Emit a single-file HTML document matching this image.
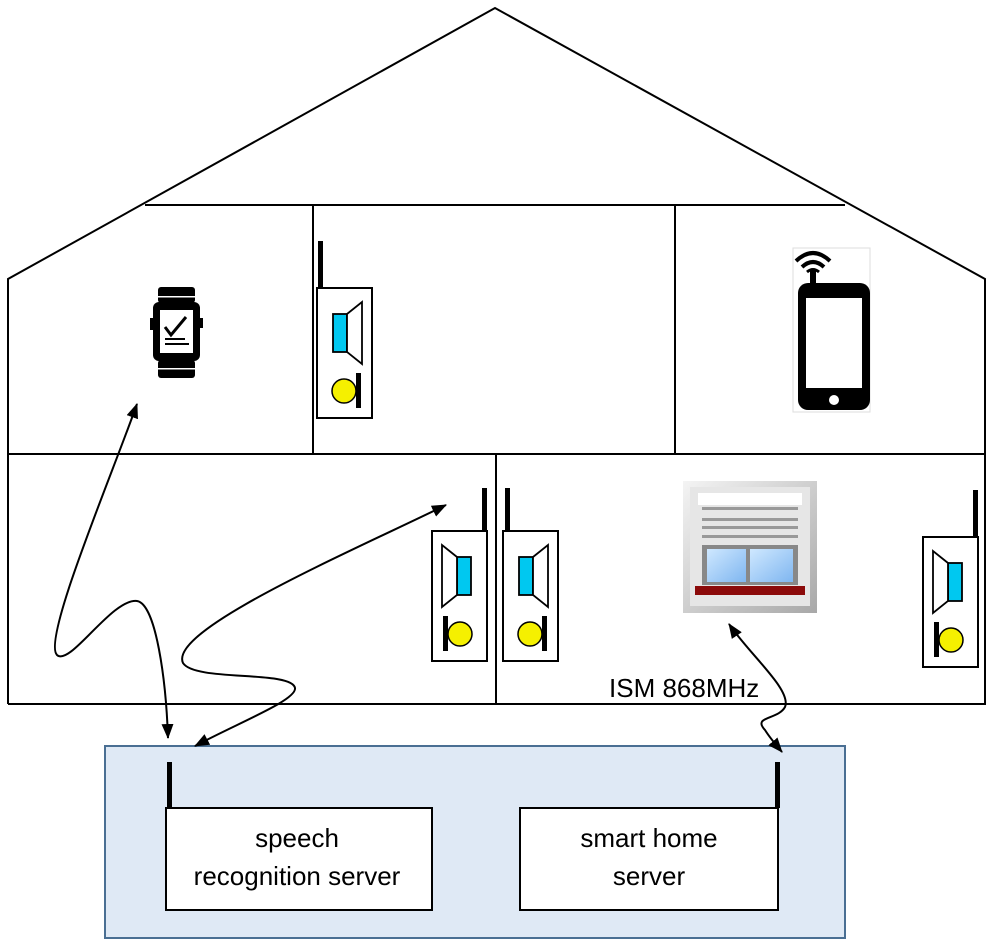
<!DOCTYPE html>
<html><head><meta charset="utf-8"><style>
html,body{margin:0;padding:0;background:#fff;}
svg{display:block;}
text{font-family:"Liberation Sans",Arial,sans-serif;}
</style></head><body>
<svg width="992" height="946" viewBox="0 0 992 946" xmlns="http://www.w3.org/2000/svg">
<defs>
<marker id="ah" markerWidth="16" markerHeight="14" refX="14" refY="6" orient="auto-start-reverse" markerUnits="userSpaceOnUse">
<path d="M0,0 L15,6 L0,12 z" fill="#000"/>
</marker>
<g id="dev">
<rect x="0" y="0" width="55" height="130" fill="#fff" stroke="#000" stroke-width="2"/>
<rect x="16" y="26" width="14" height="38" fill="#00c8f0" stroke="#000" stroke-width="1.8"/>
<polygon points="30,26 45,14 45,76 30,64" fill="#fff" stroke="#000" stroke-width="1.8"/>
<circle cx="27" cy="103" r="12" fill="#f5f000" stroke="#000" stroke-width="1.5"/>
<rect x="39" y="85" width="5" height="35" fill="#000"/>
</g>
<linearGradient id="fr" x1="0" y1="0" x2="1" y2="1"><stop offset="0" stop-color="#f4f4f4"/><stop offset="1" stop-color="#a8a8a8"/></linearGradient>
<linearGradient id="gl" x1="0" y1="0" x2="1" y2="1"><stop offset="0" stop-color="#cfe8ff"/><stop offset="1" stop-color="#7fb6f0"/></linearGradient>
</defs>

<g fill="none" stroke="#000" stroke-width="2">
<polyline points="8,704 8,279 495,8 985,279 985,704 8,704"/>
<line x1="145" y1="205" x2="845" y2="205"/>
<line x1="8" y1="454" x2="985" y2="454"/>
<line x1="313" y1="205" x2="313" y2="454"/>
<line x1="675" y1="205" x2="675" y2="454"/>
<line x1="496" y1="454" x2="496" y2="704"/>
</g>

<g fill="#000">
<rect x="158" y="287" width="37" height="16" rx="3"/>
<rect x="158" y="360" width="37" height="18" rx="3"/>
<rect x="153" y="302" width="47" height="59" rx="6"/>
<rect x="150" y="318" width="4" height="12"/>
<rect x="199" y="318" width="4" height="10"/>
<rect x="160" y="310" width="33" height="43" fill="#fff"/>
<polyline points="165,327 171,335 186,317" fill="none" stroke="#000" stroke-width="3"/>
<rect x="165" y="338" width="20" height="2"/>
<rect x="165" y="343" width="24" height="2"/>
<rect x="158" y="296" width="37" height="1.5" fill="#fff"/>
<rect x="158" y="368" width="37" height="1.5" fill="#fff"/>
</g>

<rect x="793" y="248" width="77" height="164" fill="#fff" stroke="#ddd" stroke-width="1"/>
<g>
<rect x="798" y="283" width="72" height="127" rx="10" fill="#000"/>
<rect x="806" y="298" width="56" height="90" fill="#fff"/>
<circle cx="834" cy="400" r="5" fill="#fff"/>
<rect x="810" y="270" width="6" height="14" fill="#000"/>
<path d="M796,261 Q813,245 830,261" fill="none" stroke="#000" stroke-width="4"/>
<path d="M802,267 Q813,257 824,267" fill="none" stroke="#000" stroke-width="4"/>
<path d="M807,272 Q813,267 819,272" fill="none" stroke="#000" stroke-width="3"/>
</g>

<g>
<rect x="683" y="481" width="134" height="132" fill="url(#fr)"/>
<rect x="690" y="487" width="120" height="119" fill="#e6e6e6"/>
<rect x="698" y="493" width="104" height="12" fill="#fff"/>
<g fill="#999"><rect x="702" y="507" width="96" height="3"/><rect x="702" y="518" width="96" height="3"/><rect x="702" y="526" width="96" height="3"/><rect x="702" y="535" width="96" height="3"/></g>
<rect x="702" y="545" width="96" height="40" fill="#888"/>
<rect x="707" y="549" width="39" height="33" fill="url(#gl)"/>
<rect x="750" y="549" width="43" height="33" fill="url(#gl)"/>
<rect x="695" y="586" width="110" height="9" fill="#8b0a0a"/>
</g>

<rect x="318" y="241" width="5" height="48" fill="#000"/>
<use href="#dev" x="317" y="288"/>
<rect x="482" y="488" width="5" height="44" fill="#000"/>
<g transform="translate(487,531) scale(-1,1)"><use href="#dev"/></g>
<rect x="505" y="488" width="5" height="44" fill="#000"/>
<use href="#dev" x="503" y="531"/>
<rect x="973" y="490" width="5" height="48" fill="#000"/>
<g transform="translate(978,537) scale(-1,1)"><use href="#dev"/></g>

<rect x="105" y="746" width="740" height="192" fill="#dfe9f5" stroke="#4a6f93" stroke-width="2"/>
<rect x="166" y="808" width="266" height="102" fill="#fff" stroke="#000" stroke-width="2"/>
<rect x="520" y="808" width="258" height="102" fill="#fff" stroke="#000" stroke-width="2"/>
<rect x="167" y="762" width="5" height="46" fill="#000"/>
<rect x="775" y="762" width="5" height="46" fill="#000"/>
<text x="297" y="847" font-size="26" text-anchor="middle" fill="#000">speech</text>
<text x="297" y="885" font-size="26" text-anchor="middle" fill="#000">recognition server</text>
<text x="649" y="847" font-size="26" text-anchor="middle" fill="#000">smart home</text>
<text x="649" y="885" font-size="26" text-anchor="middle" fill="#000">server</text>

<text x="609" y="697" font-size="26" fill="#000">ISM 868MHz</text>

<g fill="none" stroke="#000" stroke-width="2" marker-start="url(#ah)" marker-end="url(#ah)">
<path d="M137,404 C110,480 42,640 57,655 C70,667 112,598 137,601 C156,604 166,680 168,738"/>
<path d="M446,505 C350,552 168,630 183,663 C195,682 292,670 295,688 C297,700 240,722 195,746"/>
<path d="M729,624 C750,655 792,690 785,707 C778,720 752,716 765,730 C770,738 776,745 782,752"/>
</g>
</svg>
</body></html>
